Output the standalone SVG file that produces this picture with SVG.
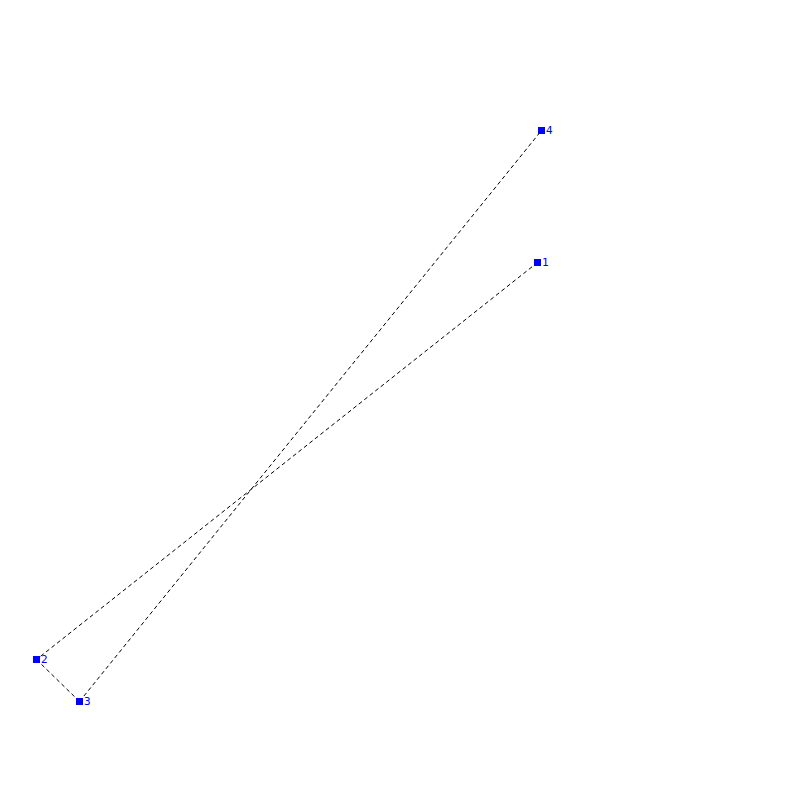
<svg xmlns="http://www.w3.org/2000/svg" width="800" height="800" viewBox="0 0 800 800">
<style>
.edge{stroke:#000;stroke-width:1;stroke-dasharray:4,3;fill:none}
.node rect{fill:#0000ff}
.node text{fill:#0000ff;font-family:"DejaVu Sans Mono",monospace;font-size:11px}
</style>
<rect width="800" height="800" fill="#fff"/>
<g id="connectors">
<line class="edge" x1="537.5" y1="262.5" x2="36.5" y2="659.5"/>
<line class="edge" x1="36.5" y1="659.5" x2="79.5" y2="701.5"/>
<line class="edge" x1="79.5" y1="701.5" x2="541.5" y2="130.5"/>
</g>
<g id="n1" class="node"><rect x="534" y="259" width="7" height="7"/><text x="542" y="266">1</text></g>
<g id="n2" class="node"><rect x="33" y="656" width="7" height="7"/><text x="41" y="663">2</text></g>
<g id="n3" class="node"><rect x="76" y="698" width="7" height="7"/><text x="84" y="705">3</text></g>
<g id="n4" class="node"><rect x="538" y="127" width="7" height="7"/><text x="546" y="134">4</text></g>
</svg>
